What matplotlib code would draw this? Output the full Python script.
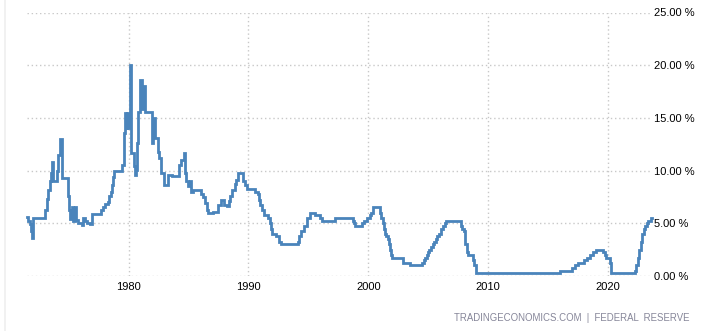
import matplotlib
matplotlib.use("Agg")
import matplotlib.pyplot as plt
from matplotlib.lines import Line2D

# Decimal-year dates of rate changes and the rate (%) from that date on
years = [
    1971.50, 1971.62, 1971.75, 1971.88, 1971.97, 1972.06, 1972.92, 1973.04, 1973.18,
    1973.30, 1973.42, 1973.50, 1973.58, 1973.68, 1974.03, 1974.15, 1974.28, 1974.48,
    1974.95, 1975.05, 1975.15, 1975.27, 1975.40, 1975.55, 1975.62, 1975.75, 1976.12,
    1976.22, 1976.36, 1976.50, 1976.75, 1976.95, 1977.70, 1977.85, 1978.05, 1978.25,
    1978.40, 1978.52, 1978.62, 1978.72, 1978.80, 1979.45, 1979.62, 1979.70, 1979.80,
    1979.90, 1979.98, 1980.05, 1980.10, 1980.20, 1980.42, 1980.55, 1980.65, 1980.72,
    1980.80, 1980.95, 1981.08, 1981.22, 1981.35, 1981.92, 1982.00, 1982.22, 1982.42,
    1982.55, 1982.72, 1982.95, 1983.30, 1983.60, 1984.20, 1984.40, 1984.60, 1984.72,
    1984.82, 1984.95, 1985.10, 1985.20, 1985.40, 1986.00, 1986.20, 1986.35, 1986.50,
    1986.65, 1987.05, 1987.45, 1987.72, 1987.95, 1988.20, 1988.40, 1988.50, 1988.60,
    1988.85, 1989.00, 1989.12, 1989.55, 1989.68, 1989.85, 1990.55,
    1990.80, 1990.90, 1991.00, 1991.10, 1991.30, 1991.62, 1991.78, 1991.88, 1991.97,
    1992.28, 1992.52, 1992.70, 1994.10, 1994.25, 1994.35, 1994.62, 1994.87, 1995.10,
    1995.52, 1995.97, 1996.10, 1997.24, 1998.74, 1998.80, 1998.88, 1999.50, 1999.65,
    1999.90, 2000.10, 2000.22, 2000.38, 2001.00, 2001.08, 2001.22, 2001.30, 2001.38,
    2001.48, 2001.62, 2001.72, 2001.80, 2001.86, 2001.95, 2002.87, 2003.48, 2004.50,
    2004.61, 2004.72, 2004.87, 2004.96, 2005.09, 2005.22, 2005.38, 2005.50, 2005.61,
    2005.72, 2005.87, 2006.09, 2006.24, 2006.41, 2006.49, 2007.71, 2007.83, 2007.95,
    2008.06, 2008.08, 2008.22, 2008.33, 2008.77, 2008.83, 2008.96, 2015.96, 2016.96,
    2017.21, 2017.46, 2017.96, 2018.22, 2018.46, 2018.74, 2018.97, 2019.58, 2019.72,
    2019.83, 2020.17, 2020.21, 2022.21, 2022.34, 2022.46, 2022.57, 2022.72, 2022.84,
    2022.96, 2023.09, 2023.22, 2023.34, 2023.57, 2023.62,
]
rates = [
    5.6, 5.2, 4.9, 4.3, 3.6, 5.5, 5.5, 6.3, 7.3,
    8.2, 9.0, 9.8, 10.8, 9.0, 10.0, 11.5, 13.0, 9.3,
    7.6, 6.3, 5.4, 6.5, 5.2, 6.5, 5.3, 5.0, 4.8,
    5.5, 5.2, 5.0, 4.9, 5.85, 6.3, 6.5, 6.8, 7.0,
    7.6, 8.0, 8.6, 9.4, 10.0, 10.5, 13.6, 15.5, 14.0,
    15.5, 14.0, 14.0, 20.0, 11.7, 10.4, 9.6, 10.1, 12.6,
    15.6, 18.6, 15.8, 18.0, 15.6, 12.6, 15.0, 13.1, 11.8,
    11.2, 9.75, 8.65, 9.6, 9.5, 10.55, 11.0, 11.66, 9.75,
    9.0, 8.5, 9.0, 8.0, 8.2, 7.8, 7.5, 6.9, 6.3,
    5.95, 6.1, 6.75, 7.2, 6.75, 6.6, 7.1, 7.6, 8.2,
    8.7, 9.1, 9.75, 9.0, 8.6, 8.25, 8.0,
    7.75, 7.25, 6.75, 6.25, 5.75, 5.5, 5.0, 4.5, 4.0,
    3.75, 3.25, 3.0, 3.25, 3.75, 4.25, 4.75, 5.5, 6.0,
    5.75, 5.5, 5.25, 5.5, 5.25, 5.0, 4.75, 5.0, 5.25,
    5.5, 5.75, 6.0, 6.5, 6.0, 5.5, 5.0, 4.5, 4.0,
    3.75, 3.5, 3.0, 2.5, 2.0, 1.75, 1.25, 1.0, 1.25,
    1.5, 1.75, 2.0, 2.25, 2.5, 2.75, 3.0, 3.25, 3.5,
    3.75, 4.0, 4.5, 4.75, 5.0, 5.25, 4.75, 4.5, 4.25,
    3.5, 3.0, 2.25, 2.0, 1.5, 1.0, 0.25, 0.5, 0.75,
    1.0, 1.25, 1.5, 1.75, 2.0, 2.25, 2.5, 2.25, 2.0,
    1.75, 1.25, 0.25, 0.5, 1.0, 1.75, 2.5, 3.25, 4.0,
    4.5, 4.75, 5.0, 5.25, 5.5, 5.5,
]

x_ticks = [1980, 1990, 2000, 2010, 2020]
y_ticks = [0, 5, 10, 15, 20, 25]
y_labels = ["0.00 %", "5.00 %", "10.00 %", "15.00 %", "20.00 %", "25.00 %"]
source_text = "TRADINGECONOMICS.COM  |  FEDERAL  RESERVE"

plt.rcParams['font.family'] = ['Liberation Sans', 'DejaVu Sans']

W, H = 704, 331
fig = plt.figure(figsize=(W / 100, H / 100), dpi=100)
left, right, top, bottom = 26.7, 651.5, 12.5, 276.0
ax = fig.add_axes([left / W, 1 - bottom / H, (right - left) / W, (bottom - top) / H])

ax.plot(years, rates, drawstyle='steps-post', color='#4a84bb', lw=2.0,
        solid_joinstyle='miter', clip_on=False, zorder=3)

ax.set_xlim(1971.5, 2023.62)
ax.set_ylim(0, 25)
ax.set_xticks(x_ticks)
ax.set_xticklabels([str(t) for t in x_ticks])
ax.set_yticks(y_ticks)
ax.set_yticklabels(y_labels)
ax.yaxis.tick_right()
for s in ax.spines.values():
    s.set_visible(False)
ax.tick_params(axis='both', length=0, labelsize=8.0, colors='#000000')
ax.tick_params(axis='x', pad=4.5)
ax.tick_params(axis='y', pad=1.5)
for lab in ax.get_yticklabels():
    lab.set_horizontalalignment('left')
ax.grid(True, color='#c8c8c8', linestyle=(0, (1, 2)), linewidth=1.0, zorder=0)
ax.set_axisbelow(True)

fig.add_artist(Line2D([4.5 / W, 4.5 / W], [0, 1], color='#efefef', lw=1.2,
                      transform=fig.transFigure))

fig.text(690 / W, 1 - 318 / H, source_text, ha='right', va='center',
         fontsize=6.9, color='#868699')

fig.savefig('out.png', dpi=100)
